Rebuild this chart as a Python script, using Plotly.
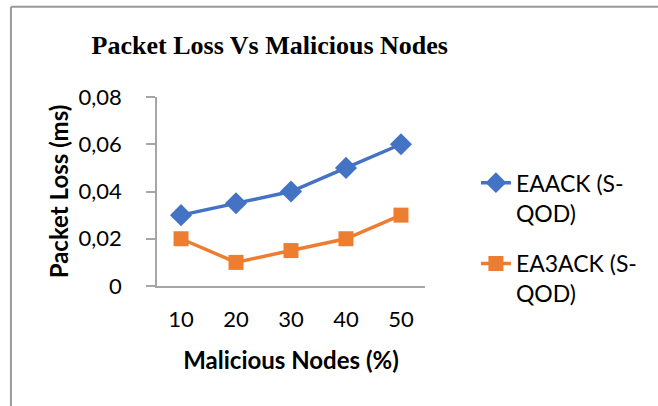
import plotly.graph_objects as go

nodes = ['10', '20', '30', '40', '50']
eaack = [0.03, 0.035, 0.04, 0.05, 0.06]
ea3ack = [0.02, 0.01, 0.015, 0.02, 0.03]
y_ticks = [0, 0.02, 0.04, 0.06, 0.08]
y_labels = ['0', '0,02', '0,04', '0,06', '0,08']

BLUE = '#4472C4'
ORANGE = '#ED7D31'
GREY = '#A6A6A6'
FONT = 'Lato, Carlito, Open Sans, sans-serif'

fig = go.Figure()
fig.add_trace(go.Scatter(
    x=nodes, y=eaack, name='EAACK (S-<br>QOD)', legendgroup='a',
    mode='lines+markers',
    line=dict(color=BLUE, width=3.5),
    marker=dict(symbol='diamond', size=17, color=BLUE)))
fig.add_trace(go.Scatter(
    x=nodes, y=ea3ack, name='EA3ACK (S-<br>QOD)', legendgroup='b',
    mode='lines+markers',
    line=dict(color=ORANGE, width=3.5),
    marker=dict(symbol='square', size=15, color=ORANGE)))

# outer frame of the pasted chart (left and top edges visible)
fig.add_shape(type='line', xref='paper', yref='paper', layer='above',
              x0=-0.545, x1=-0.545, y0=-1.0, y1=1.478,
              line=dict(color='#999999', width=2))
fig.add_shape(type='line', xref='paper', yref='paper', layer='above',
              x0=-0.545, x1=2.0, y0=1.478, y1=1.478,
              line=dict(color='#999999', width=2))

fig.update_layout(
    width=658, height=406,
    plot_bgcolor='white', paper_bgcolor='white',
    margin=dict(l=157, r=233, t=97, b=120),
    font=dict(family=FONT, size=22, color='black'),
    title=dict(text='<b>Packet Loss Vs Malicious Nodes</b>',
               font=dict(family='Liberation Serif, Times New Roman, serif', size=26),
               x=0.41, xanchor='center', y=0.89, yanchor='middle'),
    legend=dict(x=1.19, y=0.66, xanchor='left', yanchor='top',
                font=dict(size=23), valign='top',
                traceorder='grouped', tracegroupgap=18),
    showlegend=True,
)
fig.update_xaxes(
    showline=True, linecolor=GREY, linewidth=1.5,
    showgrid=False, ticks='', ticklabelstandoff=13,
    title=dict(text='<b>Malicious Nodes (%)</b>', font=dict(size=24), standoff=21),
)
fig.update_yaxes(
    range=[0, 0.08], tickvals=y_ticks, ticktext=y_labels,
    showline=True, linecolor=GREY, linewidth=1.5,
    ticks='outside', ticklen=9, tickcolor=GREY, tickwidth=1.5,
    showgrid=False, zeroline=False, ticklabelstandoff=20,
    title=dict(text='<b>Packet Loss (ms)</b>', font=dict(size=24), standoff=3),
)

fig.write_html('out.html', config={'displayModeBar': False},
               post_script="document.body.style.margin='0';")
